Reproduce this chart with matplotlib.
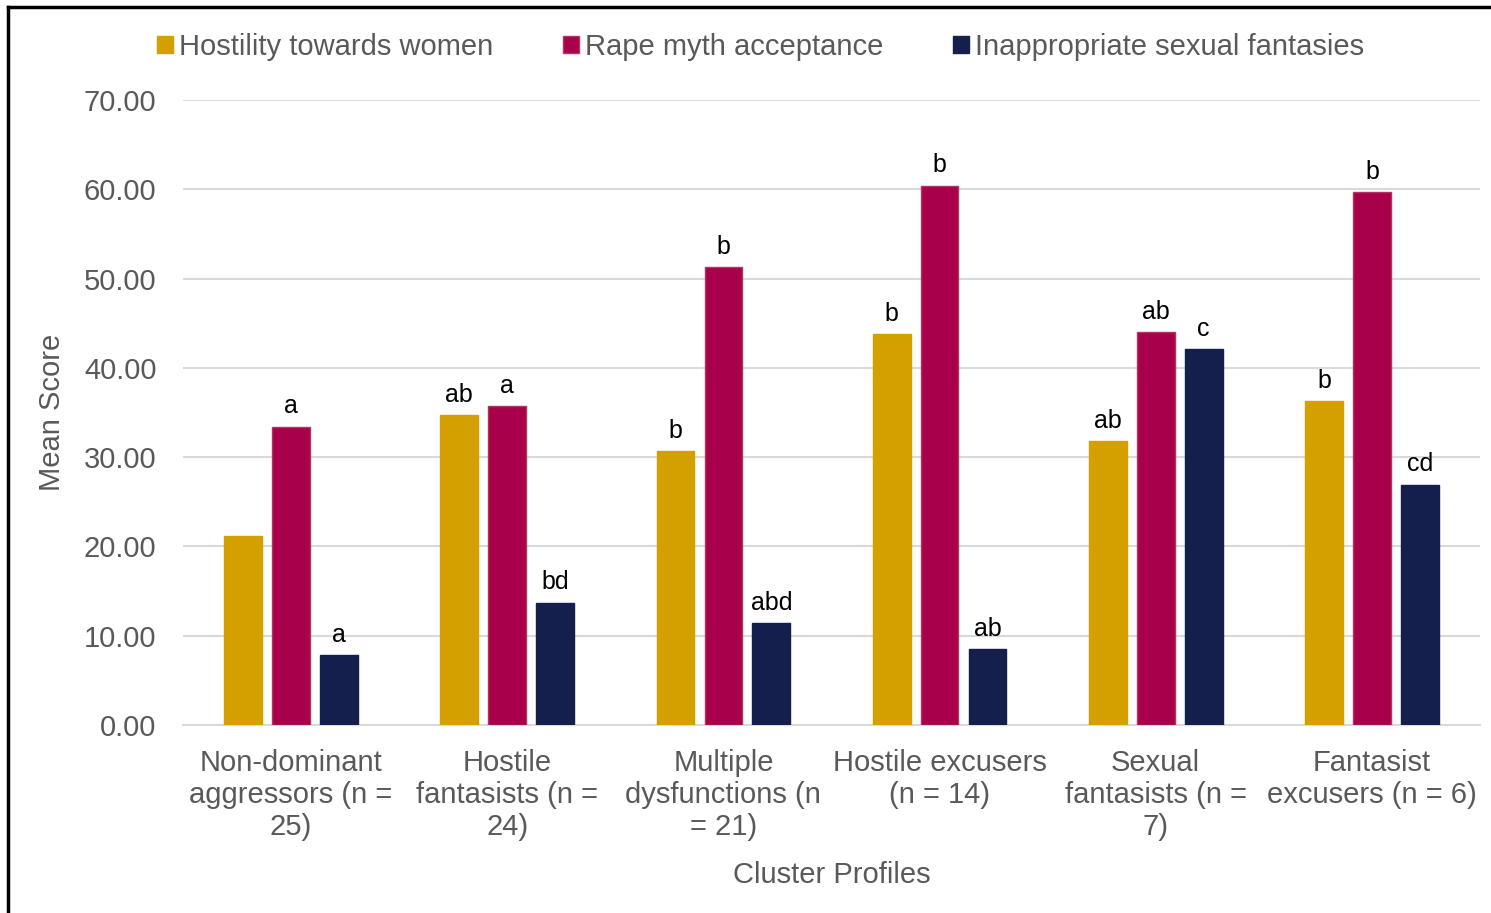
import matplotlib
matplotlib.use("Agg")
import matplotlib.pyplot as plt
from matplotlib.lines import Line2D
import numpy as np

categories = ["Non-dominant\naggressors (n =\n25)", "Hostile\nfantasists (n =\n24)",
              "Multiple\ndysfunctions (n\n= 21)", "Hostile excusers\n(n = 14)",
              "Sexual\nfantasists (n =\n7)", "Fantasist\nexcusers (n = 6)"]
series_names = ["Hostility towards women", "Rape myth acceptance", "Inappropriate sexual fantasies"]
hostility = [21.2, 34.7, 30.7, 43.8, 31.8, 36.3]
rape_myth = [33.4, 35.7, 51.3, 60.4, 44.0, 59.7]
fantasies = [7.8, 13.7, 11.4, 8.5, 42.1, 26.9]
hostility_labels = ["", "ab", "b", "b", "ab", "b"]
rape_myth_labels = ["a", "a", "b", "b", "ab", "b"]
fantasies_labels = ["a", "bd", "abd", "ab", "c", "cd"]
yticks = [0, 10, 20, 30, 40, 50, 60, 70]

colors = ["#D4A000", "#A8004B", "#141F4D"]
edgecolors = ["#D4A000", "#B5345F", "#141F4D"]

plt.rcParams['font.family'] = ['Liberation Sans', 'DejaVu Sans']
fig = plt.figure(figsize=(14.91, 9.13), dpi=100)
W, H = 1491, 913
ax = fig.add_axes([183 / W, 1 - 725 / H, (1480 - 183) / W, (725 - 100) / H])

FS = 21
x = np.arange(len(categories))
width = 0.175
offset = 0.222
all_vals = [hostility, rape_myth, fantasies]
all_labels = [hostility_labels, rape_myth_labels, fantasies_labels]
for i, (vals, labs) in enumerate(zip(all_vals, all_labels)):
    pos = x + (i - 1) * offset
    bars = ax.bar(pos, vals, width, color=colors[i], edgecolor=edgecolors[i], linewidth=1,
                  label=series_names[i], zorder=3)
    for b, lab in zip(bars, labs):
        if lab:
            ax.annotate(lab, (b.get_x() + b.get_width() / 2, b.get_height()),
                        xytext=(0, 6), textcoords="offset points", ha="center", va="bottom",
                        fontsize=18, color="black", zorder=4)

ax.set_xlim(-0.5, len(categories) - 0.5)
ax.set_ylim(0, 70)
ax.set_yticks(yticks)
ax.set_yticklabels([f"{v:.2f}" for v in yticks])
ax.yaxis.grid(True, color="#D9D9D9", linewidth=1.5, zorder=0)
ax.set_axisbelow(True)
for s in ["top", "right", "left"]:
    ax.spines[s].set_visible(False)
ax.spines["bottom"].set_color("#D9D9D9")
ax.spines["bottom"].set_linewidth(1.5)
ax.tick_params(axis="both", length=0, labelsize=FS, labelcolor="#595959")
ax.tick_params(axis="x", pad=17)
ax.tick_params(axis="y", pad=19)
ax.set_xticks(x)
ax.set_xticklabels(categories, linespacing=1.2)
ax.set_xlabel("Cluster Profiles", fontsize=FS, color="#595959", labelpad=14)
ax.set_ylabel("Mean Score", fontsize=FS, color="#595959", labelpad=13)

leg = fig.legend(loc="center", bbox_to_anchor=(0.51, 1 - 47 / H), ncol=3, frameon=False,
                 fontsize=FS, handlelength=0.55, handleheight=0.55, handletextpad=0.2,
                 columnspacing=2.4)
for t in leg.get_texts():
    t.set_color("#595959")

# figure border (left & top)
fig.add_artist(Line2D([8 / W, 8 / W], [0, 1 - 7 / H], transform=fig.transFigure, color="black", linewidth=2.5))
fig.add_artist(Line2D([8 / W, 1], [1 - 7 / H, 1 - 7 / H], transform=fig.transFigure, color="black", linewidth=2.5))

fig.savefig("out.png", dpi=100)
